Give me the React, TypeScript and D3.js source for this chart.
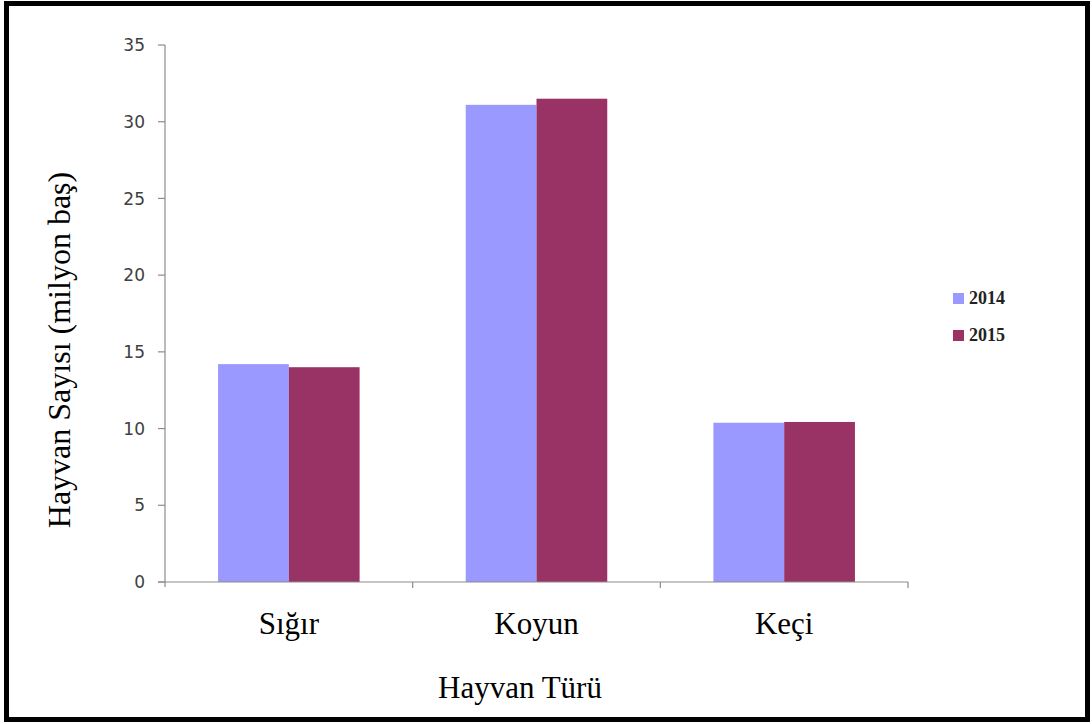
import React from "react";
import * as d3 from "d3";

const categories = ["Sığır", "Koyun", "Keçi"];
const seriesNames = ["2014", "2015"];
const values2014 = [14.2, 31.1, 10.38];
const values2015 = [14.0, 31.5, 10.43];
const yTicks = [0, 5, 10, 15, 20, 25, 30, 35];
const colors = ["#9999FF", "#993366"];

const W = 1092;
const H = 724;
const plot = { left: 165, right: 908, top: 45, bottom: 582 };

export default function App() {
  const x = d3
    .scaleBand<string>()
    .domain(categories)
    .range([plot.left, plot.right])
    .paddingInner(0)
    .paddingOuter(0);
  const y = d3.scaleLinear().domain([0, 35]).range([plot.bottom, plot.top]);
  const bw = x.bandwidth() / 3.5;
  const series = [values2014, values2015];

  const catBounds = categories.map((c) => (x(c) as number) + x.bandwidth());

  return (
    <svg
      width={W}
      height={H}
      style={{ position: "absolute", left: 0, top: 0, background: "#fff" }}
    >
      <rect x={0} y={0} width={W} height={H} fill="#fff" />
      {/* bars */}
      {series.map((vals, si) =>
        categories.map((c, ci) => {
          const cx = (x(c) as number) + x.bandwidth() / 2;
          const bx = cx - bw + si * bw;
          return (
            <rect
              key={`${si}-${ci}`}
              x={bx}
              y={y(vals[ci])}
              width={bw}
              height={y(0) - y(vals[ci])}
              fill={colors[si]}
            />
          );
        })
      )}
      {/* y axis */}
      <line
        x1={plot.left}
        x2={plot.left}
        y1={plot.top}
        y2={plot.bottom + 5}
        stroke="#8c8c8c"
        strokeWidth={1.2}
      />
      {yTicks.map((t) => (
        <g key={t}>
          <line
            x1={plot.left - 7}
            x2={plot.left}
            y1={y(t)}
            y2={y(t)}
            stroke="#8c8c8c"
            strokeWidth={1.2}
          />
          <text
            x={plot.left - 20}
            y={y(t)}
            dy="0.36em"
            textAnchor="end"
            fontFamily="DejaVu Sans"
            fontSize={17}
            fill="#404040"
          >
            {t}
          </text>
        </g>
      ))}
      {/* x axis */}
      <line
        x1={plot.left - 7}
        x2={plot.right}
        y1={plot.bottom}
        y2={plot.bottom}
        stroke="#8c8c8c"
        strokeWidth={1.2}
      />
      {catBounds.map((b, i) => (
        <line
          key={i}
          x1={b}
          x2={b}
          y1={plot.bottom}
          y2={plot.bottom + 6}
          stroke="#8c8c8c"
          strokeWidth={1.2}
        />
      ))}
      {categories.map((c) => (
        <text
          key={c}
          x={(x(c) as number) + x.bandwidth() / 2}
          y={634}
          textAnchor="middle"
          fontFamily="Liberation Serif"
          fontSize={31}
          fill="#000"
        >
          {c}
        </text>
      ))}
      {/* axis titles */}
      <text
        x={(plot.left + plot.right) / 2 + (520 - 536.5)}
        y={698}
        textAnchor="middle"
        fontFamily="Liberation Serif"
        fontSize={31}
        fill="#000"
      >
        Hayvan Türü
      </text>
      <text
        transform={`translate(70, 350) rotate(-90)`}
        textAnchor="middle"
        fontFamily="Liberation Serif"
        fontSize={32}
        fill="#000"
      >
        Hayvan Sayısı (milyon baş)
      </text>
      {/* legend */}
      {seriesNames.map((s, i) => (
        <g key={s} transform={`translate(953, ${293 + i * 37})`}>
          <rect x={0} y={0} width={11} height={11} fill={colors[i]} />
          <text
            x={16}
            y={11}
            fontFamily="Liberation Serif"
            fontWeight="bold"
            fontSize={18}
            fill="#222"
          >
            {s}
          </text>
        </g>
      ))}
      {/* border */}
      <rect
        x={6.5}
        y={3.5}
        width={1081}
        height={716}
        fill="none"
        stroke="#000"
        strokeWidth={5}
      />
    </svg>
  );
}
